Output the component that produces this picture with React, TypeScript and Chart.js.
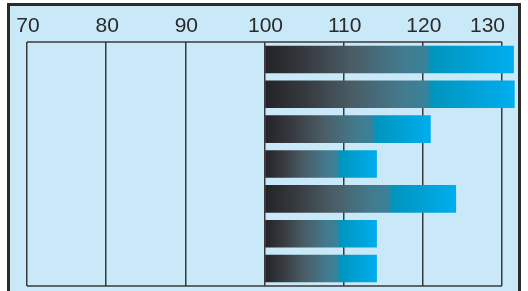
import React, { useEffect, useRef } from "react";
import { Chart, registerables } from "chart.js";

Chart.register(...registerables);

const categories = ["1", "2", "3", "4", "5", "6", "7"];
const values = [131.5, 131.6, 121.0, 114.2, 124.2, 114.2, 114.2];
const baseValue = 100;
const tickValues = [70, 80, 90, 100, 110, 120, 130];
const tickLabels = ["70", "80", "90", "100", "110", "120", "130"];

const gradientStops: [number, string][] = [
  [0, "#232327"],
  [0.15, "#35383d"],
  [0.35, "#4a5c65"],
  [0.55, "#437a8d"],
  [0.645, "#3a8299"],
  [0.67, "#0095bd"],
  [1, "#00aeef"],
];

const LINE = "#3a3a3a";
const FONT = "21px 'Liberation Sans', Arial, sans-serif";

const framePlugin = {
  id: "frame",
  beforeDatasetsDraw(chart: any) {
    const { ctx, chartArea } = chart;
    ctx.save();
    ctx.strokeStyle = LINE;
    ctx.lineWidth = 1.5;
    ctx.beginPath();
    ctx.moveTo(chartArea.left, chartArea.top);
    ctx.lineTo(chartArea.right, chartArea.top);
    ctx.moveTo(chartArea.left, chartArea.bottom);
    ctx.lineTo(chartArea.right, chartArea.bottom);
    ctx.stroke();
    ctx.restore();
  },
  afterDraw(chart: any) {
    const { ctx, chartArea } = chart;
    const x = chart.scales.x;
    ctx.save();
    ctx.font = FONT;
    ctx.fillStyle = "#2a2a2a";
    ctx.textBaseline = "alphabetic";
    tickValues.forEach((v, i) => {
      const px = x.getPixelForValue(v);
      const last = i === tickValues.length - 1;
      ctx.textAlign = last ? "right" : "center";
      ctx.fillText(tickLabels[i], last ? px + 3 : px + 1, chartArea.top - 10);
    });
    ctx.restore();
  },
};

export default function App() {
  const ref = useRef<HTMLCanvasElement | null>(null);

  useEffect(() => {
    if (!ref.current) return;
    const chart = new Chart(ref.current, {
      type: "bar",
      data: {
        labels: categories,
        datasets: [
          {
            data: values,
            base: baseValue,
            clip: false as any,
            categoryPercentage: 1,
            barPercentage: 0.79,
            borderWidth: 0,
            backgroundColor: (c: any) => {
              const chart = c.chart;
              const xs = chart.scales && chart.scales.x;
              if (!xs || c.type !== "data") return gradientStops[0][1];
              const x0 = xs.getPixelForValue(baseValue);
              const x1 = xs.getPixelForValue(values[c.dataIndex]);
              if (!isFinite(x0) || !isFinite(x1) || x1 <= x0) return gradientStops[0][1];
              const g = chart.ctx.createLinearGradient(x0, 0, x1, 0);
              gradientStops.forEach(([o, col]) => g.addColorStop(o, col));
              return g;
            },
          } as any,
        ],
      },
      options: {
        indexAxis: "y",
        animation: false,
        responsive: true,
        maintainAspectRatio: false,
        layout: { padding: { left: 27, right: 26, top: 42, bottom: 5 } },
        plugins: { legend: { display: false }, tooltip: { enabled: false } },
        scales: {
          x: {
            type: "linear",
            min: 70,
            max: 130,
            position: "top",
            ticks: { display: false, stepSize: 10 },
            grid: { color: LINE, lineWidth: 1.5, drawTicks: false },
            border: { display: false },
          },
          y: {
            display: false,
            grid: { display: false },
          },
        },
      },
      plugins: [framePlugin],
    });
    return () => chart.destroy();
  }, []);

  return (
    <div style={{ position: "fixed", left: 0, top: 0, width: 528, height: 291, overflow: "hidden" }}>
      <div
        style={{
          position: "absolute",
          left: 7,
          top: 3,
          width: 514,
          height: 310,
          boxSizing: "border-box",
          border: "3px solid #2b2b2b",
          background: "#c9e8f8",
        }}
      />
      <div style={{ position: "absolute", left: 0, top: 0, width: 528, height: 291 }}>
        <canvas ref={ref} />
      </div>
    </div>
  );
}
